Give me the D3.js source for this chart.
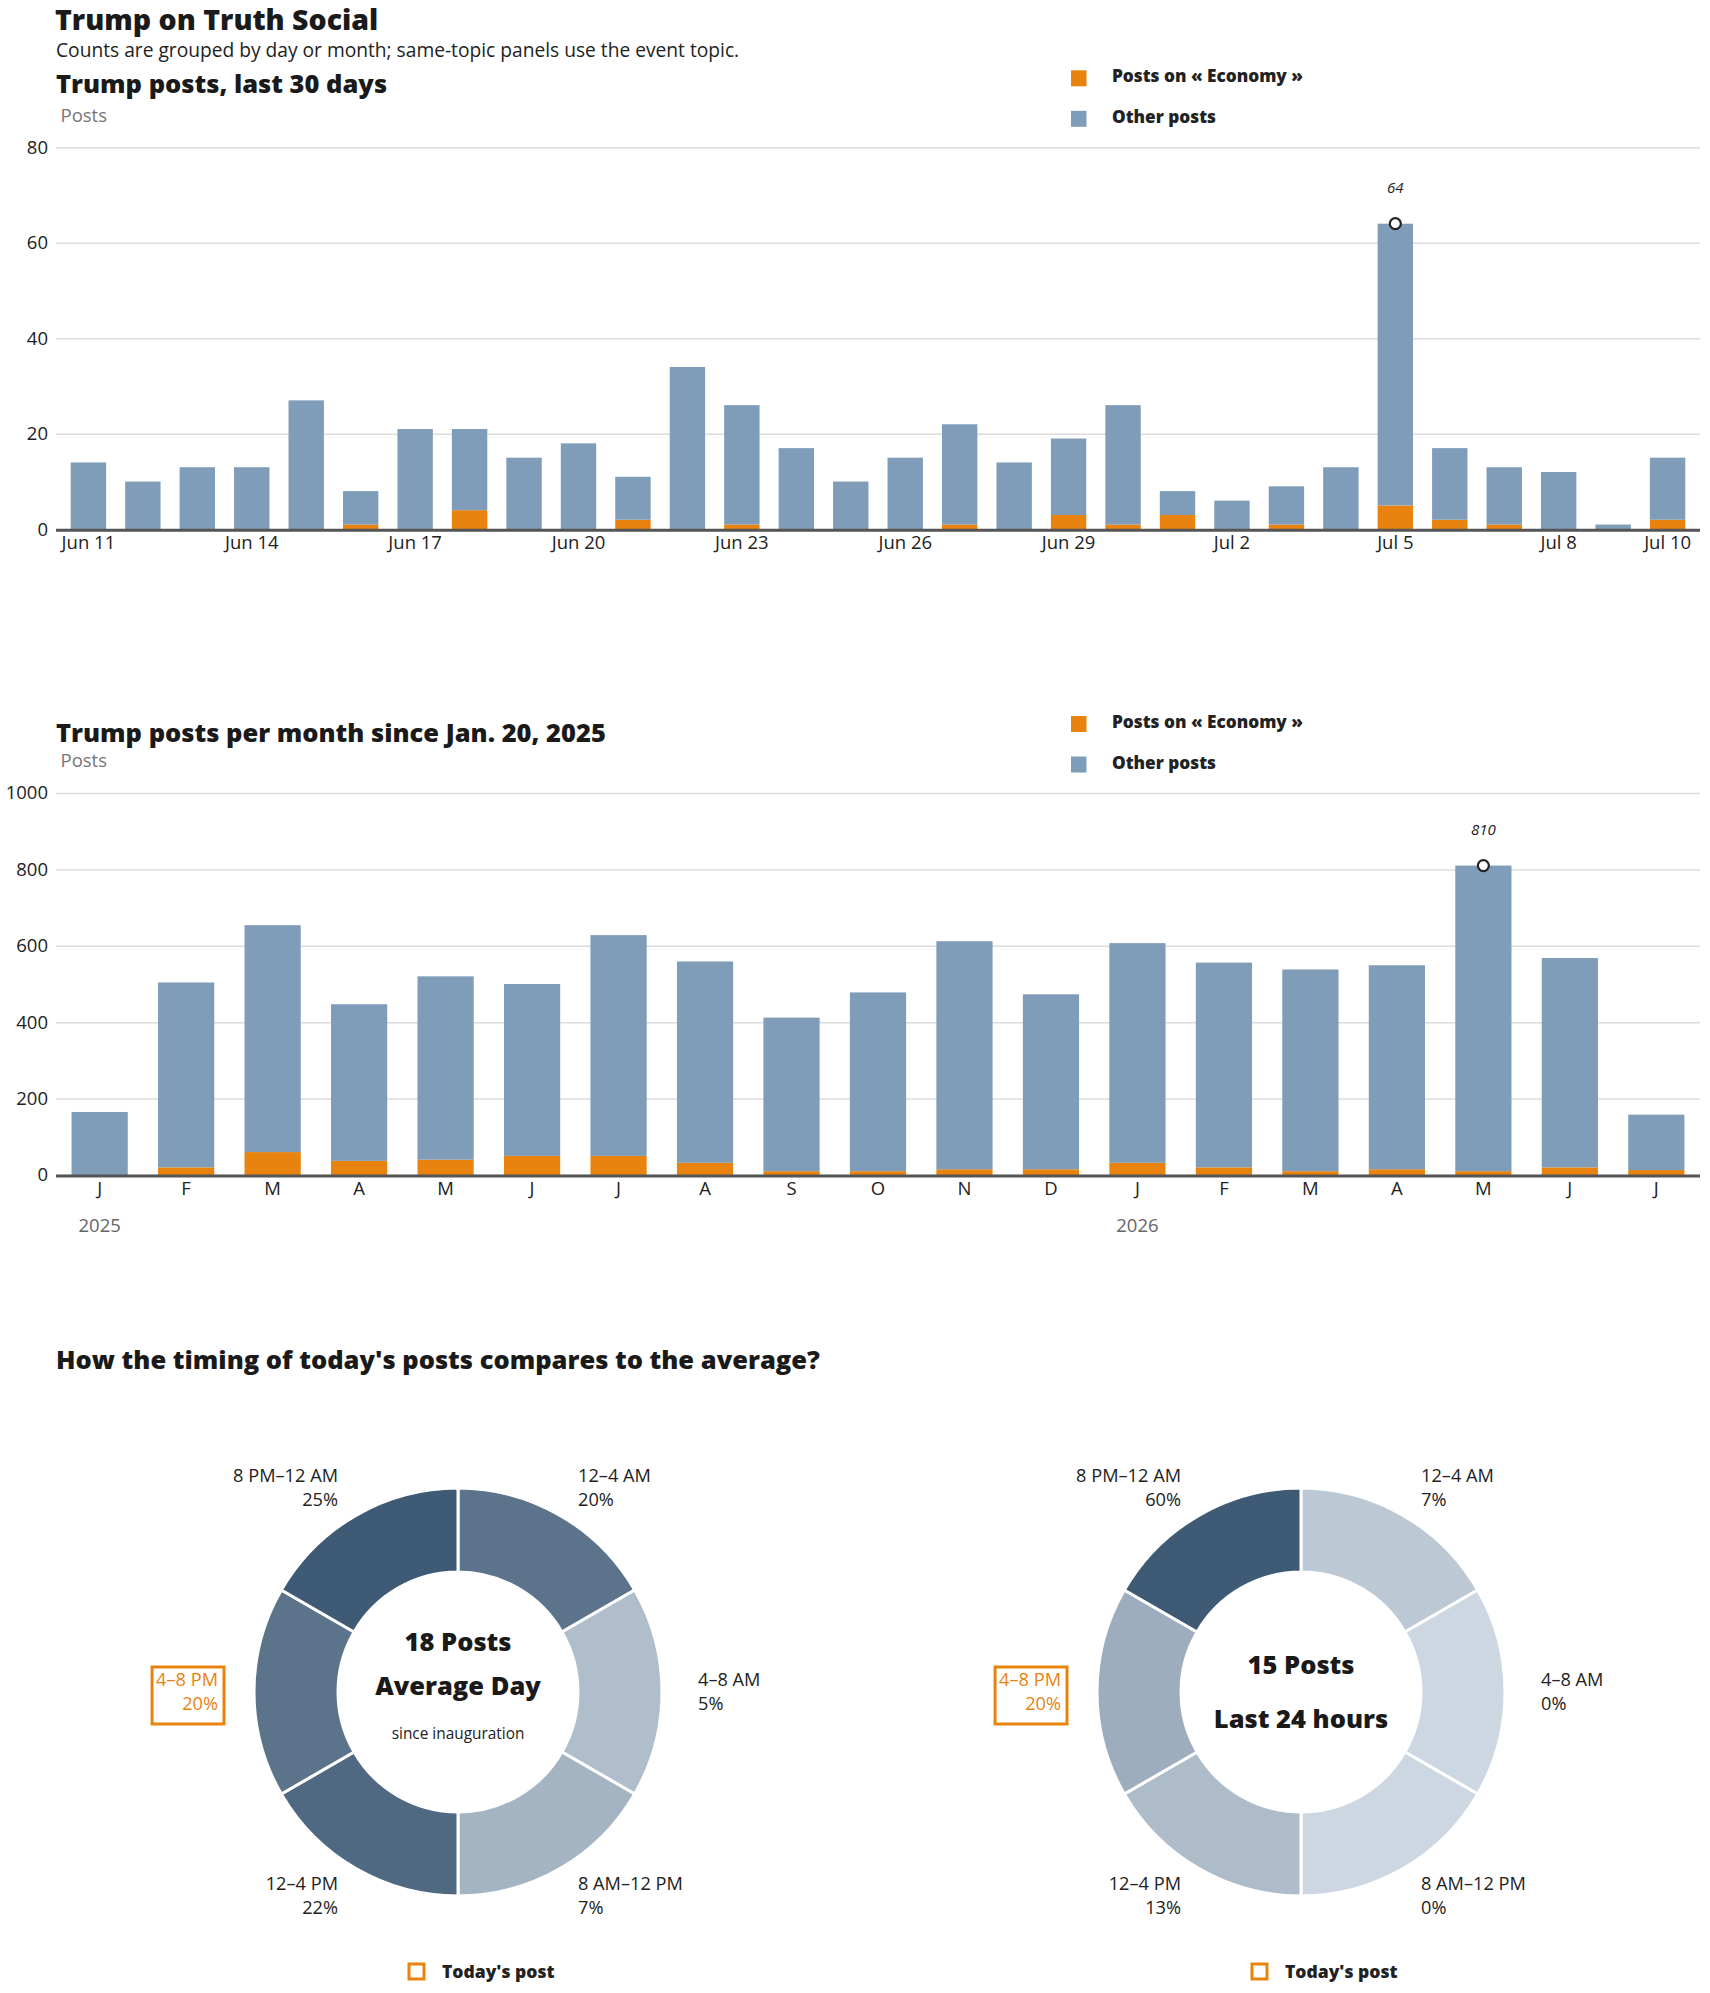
<!DOCTYPE html>
<html>
<head>
<meta charset="utf-8">
<script src="https://cdn.jsdelivr.net/npm/d3@7"></script>
<style>
  body { margin: 0; background: #fff; }
  svg text { font-family: "Open Sans", Roboto, sans-serif; }
  .heavy { font-weight: 800; fill: #1a1a1a; }
</style>
</head>
<body>
<svg id="chart" width="1710" height="1993"></svg>
<script>
// ---- data ----
const dayLabels = ["Jun 11","Jun 12","Jun 13","Jun 14","Jun 15","Jun 16","Jun 17","Jun 18","Jun 19","Jun 20",
	"Jun 21","Jun 22","Jun 23","Jun 24","Jun 25","Jun 26","Jun 27","Jun 28","Jun 29","Jun 30",
	"Jul 1","Jul 2","Jul 3","Jul 4","Jul 5","Jul 6","Jul 7","Jul 8","Jul 9","Jul 10"];
const dayTicks = ["Jun 11","Jun 14","Jun 17","Jun 20","Jun 23","Jun 26","Jun 29","Jul 2","Jul 5","Jul 8","Jul 10"];
const dayTotals = [14,10,13,13,27,8,21,21,15,18,11,34,26,17,10,15,22,14,19,26,8,6,9,13,64,17,13,12,1,15];
const dayEconomy = [0,0,0,0,0,1,0,4,0,0,2,0,1,0,0,0,1,0,3,1,3,0,1,0,5,2,1,0,0,2];

const monthKeys = ["2025-01","2025-02","2025-03","2025-04","2025-05","2025-06","2025-07","2025-08","2025-09",
	"2025-10","2025-11","2025-12","2026-01","2026-02","2026-03","2026-04","2026-05","2026-06","2026-07"];
const monthLetters = ["J","F","M","A","M","J","J","A","S","O","N","D","J","F","M","A","M","J","J"];
const monthTotals = [165,504,654,447,520,500,628,559,412,478,612,473,607,556,538,549,810,568,158];
const monthEconomy = [0,20,60,37,40,50,50,32,10,10,15,15,32,20,10,15,10,20,13];
const yearStarts = ["2025-01","2026-01"];

const slotLabels = ["12–4 AM","4–8 AM","8 AM–12 PM","12–4 PM","4–8 PM","8 PM–12 AM"];
const avgShare = [20,5,7,22,20,25];
const todayShare = [7,0,0,13,20,60];
const todaySlot = "4–8 PM";
const avgPosts = 18;
const todayPosts = 15;

const ORANGE = "#e8830f";
const BLUE = "#7f9db9";
const INK = "#222";

const svg = d3.select("#chart");
const left = 56, right = 1700;

// ---- headers ----
svg.append("text").attr("class", "heavy")
	.attr("x", 55).attr("y", 30)
	.style("font-size", "28.5px")
	.text("Trump on Truth Social");

svg.append("text")
	.attr("x", 56).attr("y", 57)
	.style("font-size", "19.2px").style("fill", INK)
	.text("Counts are grouped by day or month; same-topic panels use the event topic.");

// ---- stacked bar panel ----
function barPanel(opts) {
	var g = svg.append("g");
	var top = opts.top, bottom = opts.top + 382;

	g.append("text").attr("class", "heavy")
		.attr("x", 56).attr("y", opts.titleY)
		.style("font-size", "25.5px")
		.text(opts.title);

	g.append("text")
		.attr("x", 60.5).attr("y", opts.postsY)
		.style("font-size", "18.5px").style("fill", "#777")
		.text("Posts");

	var rows = opts.keys.map(function(k, i) {
		return { key: k, economy: opts.economy[i], other: opts.totals[i] - opts.economy[i], total: opts.totals[i] };
	});

	var x = d3.scaleBand()
		.domain(opts.keys)
		.range([left, right])
		.paddingInner(opts.padIn)
		.paddingOuter(opts.padOut);

	var y = d3.scaleLinear()
		.domain([0, opts.yMax])
		.range([bottom, top]);

	// gridlines + y labels
	var yAxis = g.append("g")
		.attr("transform", "translate(" + left + ",0)")
		.call(d3.axisLeft(y).tickValues(opts.yTicks).tickFormat(d3.format("d")).tickSize(-(right - left)).tickPadding(8));
	yAxis.select(".domain").remove();
	yAxis.selectAll(".tick line").attr("stroke", "#dcdcdc").attr("stroke-width", 1.5);
	yAxis.selectAll(".tick text")
		.style("font-size", "18.5px").style("fill", INK)
		.attr("font-family", null);

	var stack = d3.stack().keys(["economy", "other"])(rows);
	var colors = { economy: ORANGE, other: BLUE };

	g.append("g").selectAll("g")
		.data(stack)
		.join("g")
		.attr("fill", (s) => colors[s.key])
		.selectAll("rect")
		.data((s) => s)
		.join("rect")
		.attr("x", (d) => x(d.data.key))
		.attr("width", x.bandwidth())
		.attr("y", (d) => y(d[1]))
		.attr("height", (d) => y(d[0]) - y(d[1]));

	// baseline
	g.append("line")
		.attr("x1", left).attr("x2", right)
		.attr("y1", bottom + 1).attr("y2", bottom + 1)
		.attr("stroke", "#555").attr("stroke-width", 3);

	// x labels
	var xAxis = g.append("g")
		.attr("transform", "translate(0," + bottom + ")")
		.call(d3.axisBottom(x).tickValues(opts.tickValues).tickFormat(opts.tickFormat).tickSize(0).tickPadding(7));
	xAxis.select(".domain").remove();
	xAxis.selectAll(".tick text")
		.style("font-size", "18.5px").style("fill", INK)
		.attr("font-family", null);

	if (opts.yearLabels) {
		g.selectAll(".year")
			.data(opts.yearLabels)
			.join("text")
			.attr("class", "year")
			.attr("x", (d) => x(d) + x.bandwidth() / 2)
			.attr("y", bottom + 57)
			.attr("text-anchor", "middle")
			.style("font-size", "18.5px").style("fill", "#666")
			.text((d) => d.slice(0, 4));
	}

	// peak annotation
	var peak = rows.reduce((a, b) => (b.total > a.total ? b : a));
	var px = x(peak.key) + x.bandwidth() / 2;
	g.append("circle")
		.attr("cx", px).attr("cy", y(peak.total)).attr("r", 5.5)
		.attr("fill", "#fff").attr("stroke", INK).attr("stroke-width", 2.2);
	g.append("text")
		.attr("x", px).attr("y", y(peak.total) - 31)
		.attr("text-anchor", "middle")
		.style("font-size", "15px").style("font-style", "italic").style("fill", INK)
		.text(peak.total);

	// legend
	var legend = g.append("g").attr("transform", "translate(1071," + (top - 77) + ")");
	[{ c: ORANGE, t: "Posts on « Economy »" }, { c: BLUE, t: "Other posts" }].forEach(function(item, i) {
		legend.append("rect")
			.attr("x", 0).attr("y", i * 40.5)
			.attr("width", 15.5).attr("height", 16)
			.attr("fill", item.c);
		legend.append("text")
			.attr("x", 41).attr("y", i * 40.5 + 12)
			.style("font-size", "17.2px").style("font-weight", 800).style("fill", INK)
			.text(item.t);
	});
}

barPanel({
	top: 147.3, titleY: 93.3, postsY: 121.7,
	title: "Trump posts, last 30 days",
	keys: dayLabels, totals: dayTotals, economy: dayEconomy,
	yMax: 80, yTicks: [0, 20, 40, 60, 80],
	tickValues: dayTicks, tickFormat: (d) => d,
	padIn: 0.35, padOut: 0.27
});

barPanel({
	top: 793, titleY: 741.7, postsY: 766.7,
	title: "Trump posts per month since Jan. 20, 2025",
	keys: monthKeys, totals: monthTotals, economy: monthEconomy,
	yMax: 1000, yTicks: [0, 200, 400, 600, 800, 1000],
	tickValues: monthKeys, tickFormat: (d, i) => monthLetters[i],
	yearLabels: yearStarts,
	padIn: 0.35, padOut: 0.18
});

// ---- donuts ----
svg.append("text").attr("class", "heavy")
	.attr("x", 56).attr("y", 1369)
	.style("font-size", "25.5px")
	.text("How the timing of today's posts compares to the average?");

function donut(cx, cy, shares, centerLines, centerYs) {
	var g = svg.append("g").attr("transform", "translate(" + cx + "," + cy + ")");
	var rows = slotLabels.map((s, i) => ({ slot: s, pct: shares[i] }));
	var maxPct = d3.max(shares);
	var shade = d3.scaleLinear().domain([0, maxPct]).range(["#cdd7e1", "#3e5a75"]).interpolate(d3.interpolateRgb);

	var pie = d3.pie().value(() => 1).sort(null);
	var arc = d3.arc().innerRadius(120).outerRadius(204);
	var arcs = pie(rows);

	g.selectAll("path")
		.data(arcs)
		.join("path")
		.attr("d", arc)
		.attr("fill", (d) => shade(d.data.pct))
		.attr("stroke", "#fff")
		.attr("stroke-width", 3);

	var labels = g.selectAll(".slot")
		.data(arcs)
		.join("text")
		.attr("class", "slot")
		.attr("text-anchor", function(d) {
			var a = (d.startAngle + d.endAngle) / 2;
			return Math.sin(a) > 0 ? "start" : "end";
		})
		.attr("transform", function(d) {
			var a = (d.startAngle + d.endAngle) / 2;
			return "translate(" + (Math.sin(a) * 240) + "," + (-Math.cos(a) * 236 - 6) + ")";
		})
		.style("font-size", "18.2px")
		.style("fill", (d) => (d.data.slot === todaySlot ? ORANGE : INK));

	labels.append("tspan").attr("x", 0).attr("y", 0).text((d) => d.data.slot);
	labels.append("tspan").attr("x", 0).attr("y", 24).text((d) => d.data.pct + "%");

	// box round today's slot label
	labels.filter((d) => d.data.slot === todaySlot).each(function() {
		var b = this.getBBox();
		var t = this.getAttribute("transform");
		d3.select(this.parentNode).insert("rect", ".slot")
			.attr("transform", t)
			.attr("x", b.x - 4).attr("y", b.y)
			.attr("width", b.width + 10).attr("height", b.height + 9)
			.attr("fill", "none").attr("stroke", ORANGE).attr("stroke-width", 3);
	});

	g.selectAll(".center")
		.data(centerLines)
		.join("text")
		.attr("class", "center")
		.attr("x", 0)
		.attr("y", (d, i) => centerYs[i])
		.attr("text-anchor", "middle")
		.style("font-size", (d, i) => (i < 2 ? "25.5px" : "15.4px"))
		.style("font-weight", (d, i) => (i < 2 ? 800 : 400))
		.style("fill", (d, i) => (i < 2 ? "#1a1a1a" : INK))
		.text((d) => d);

	// legend
	g.append("rect")
		.attr("x", -49).attr("y", 272)
		.attr("width", 15).attr("height", 15)
		.attr("fill", "none").attr("stroke", ORANGE).attr("stroke-width", 3);
	g.append("text")
		.attr("x", -16).attr("y", 286)
		.style("font-size", "17.5px").style("font-weight", 800).style("fill", INK)
		.text("Today's post");
}

donut(458, 1692, avgShare, [avgPosts + " Posts", "Average Day", "since inauguration"], [-41, 3, 47]);
donut(1301, 1692, todayShare, [todayPosts + " Posts", "Last 24 hours"], [-18.5, 35.5]);
</script>
</body>
</html>
